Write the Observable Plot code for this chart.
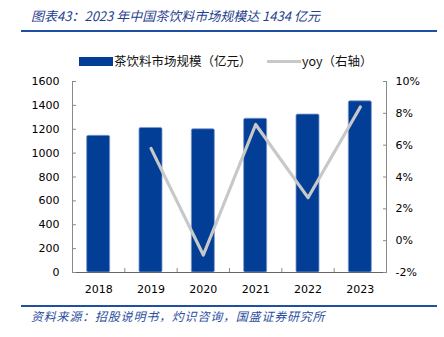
<!DOCTYPE html>
<html><head><meta charset="utf-8">
<script src="https://cdn.jsdelivr.net/npm/d3@7"></script>
<script src="https://cdn.jsdelivr.net/npm/@observablehq/plot@0.6"></script>
<style>
body{margin:0;background:#fff;}
#wrap{position:relative;width:444px;height:337px;overflow:hidden;background:#fff;}
#chart{position:absolute;left:0;top:0;}
.title{position:absolute;left:31px;top:7px;font-style:italic;font-size:13px;font-family:"Noto Sans CJK SC",sans-serif;color:#1f3f8f;white-space:nowrap;line-height:18px;}
.rule{position:absolute;left:21px;width:416px;height:2px;background:#1f4ea3;}
.source{position:absolute;left:31px;top:307px;font-style:italic;font-size:12px;font-family:"Noto Sans CJK SC",sans-serif;color:#2a4ea0;white-space:nowrap;line-height:18px;letter-spacing:0.8px;}
.legend{position:absolute;top:52px;left:0;height:18px;font-family:"Noto Sans CJK SC",sans-serif;font-size:12.5px;color:#111;line-height:18px;}
.legend span{position:absolute;white-space:nowrap;}
.sw{position:absolute;}
</style>
</head><body>
<div id="wrap">
  <div class="title">图表43：2023 年中国茶饮料市场规模达 1434 亿元</div>
  <div class="rule" style="top:30px"></div>
  <div class="legend">
    <div class="sw" style="left:79px;top:5px;width:34px;height:9px;background:#023e95;"></div>
    <span style="left:114px;top:0">茶饮料市场规模（亿元）</span>
    <div class="sw" style="left:267px;top:8px;width:34px;height:3px;background:#c8c8c8;"></div>
    <span style="left:302px;top:0">yoy（右轴）</span>
  </div>
  <div id="chart"></div>
  <div class="rule" style="top:305px"></div>
  <div class="source">资料来源：招股说明书，灼识咨询，国盛证券研究所</div>
</div>
<script>
const years = ["2018", "2019", "2020", "2021", "2022", "2023"];
const marketSize = [1145, 1211, 1200, 1288, 1323, 1434];
const yoy = [null, 5.8, -0.9, 7.3, 2.7, 8.4];
const leftTicks = [0, 200, 400, 600, 800, 1000, 1200, 1400, 1600];
const rightTicks = [-2, 0, 2, 4, 6, 8, 10];

const leftMax = 1600, rMin = -2, rMax = 10;
const toLeft = v => (v - rMin) / (rMax - rMin) * leftMax;
const fromLeft = v => v / leftMax * (rMax - rMin) + rMin;

const rows = years.map((y, i) => ({i, year: y, size: marketSize[i], yoy: yoy[i]}));
const half = 0.22;
const bounds = d3.range(years.length - 1).map(i => i + 0.5);

const chart = Plot.plot({
  width: 444, height: 337,
  marginTop: 81, marginBottom: 65, marginLeft: 72, marginRight: 58,
  style: {fontFamily: "DejaVu Sans, sans-serif", fontSize: "11px", color: "#000", background: "transparent"},
  x: {type: "linear", domain: [-0.5, years.length - 0.5], label: null},
  y: {domain: [0, leftMax], label: null},
  marks: [
    Plot.rectY(rows, {x1: d => d.i - half, x2: d => d.i + half, y1: 0, y2: "size",
      fill: "#023e95", stroke: "#7d9ad0", strokeWidth: 0.8, rx: 1.5}),
    Plot.line(rows.filter(d => d.yoy != null), {x: "i", y: d => toLeft(d.yoy),
      stroke: "#c8c8c8", strokeWidth: 3.2}),
    Plot.ruleX([-0.5, years.length - 0.5], {y1: 0, y2: leftMax, stroke: "#8a8a8a", strokeWidth: 1}),
    Plot.ruleY([0], {stroke: "#666", strokeWidth: 1.2}),
    Plot.axisY({ticks: leftTicks, tickSize: -4, tickPadding: 17, label: null, tickFormat: d => String(d), stroke: "#8a8a8a", fill: "#000"}),
    Plot.axisY({anchor: "right", ticks: rightTicks.map(toLeft), tickSize: -4, tickPadding: 13, label: null,
      tickFormat: v => Math.round(fromLeft(v)) + "%", stroke: "#8a8a8a", fill: "#000"}),
    Plot.axisX({ticks: years.map((_, i) => i), tickSize: 0, tickPadding: 13, label: null, tickFormat: i => years[i], fill: "#000"}),
    Plot.axisX({ticks: bounds, tickSize: -4, label: null, tickFormat: () => "", stroke: "#8a8a8a"})
  ]
});
document.getElementById("chart").appendChild(chart);
</script>
</body></html>
